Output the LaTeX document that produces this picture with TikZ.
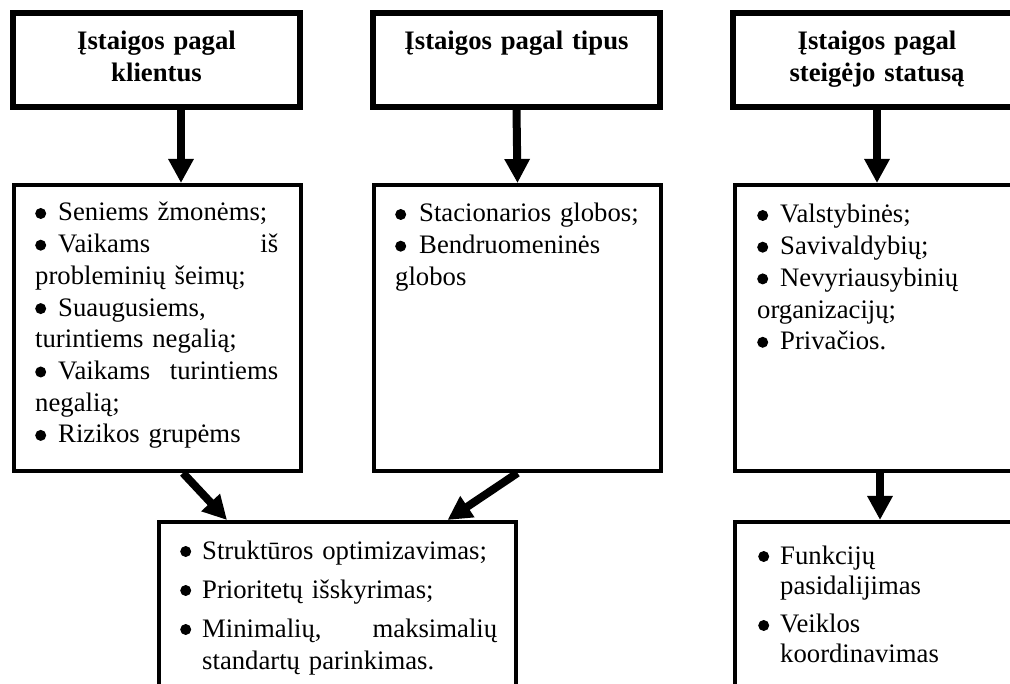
\documentclass[tikz,border=0pt]{standalone}
\usepackage{fontspec}
\setmainfont{Liberation Serif}
\usetikzlibrary{arrows.meta,calc}
\newcommand{\mybul}[1]{\makebox[#1][l]{\tikz[baseline=0pt]\fill (5pt,7.5pt) circle (5.5pt);}}
\begin{document}
\begin{tikzpicture}[x=1pt,y=-1pt,
  tbox/.style={draw, line width=6pt, inner sep=0pt},
  lbox/.style={draw, line width=4pt, inner sep=0pt},
  arr/.style={line width=8pt, -{Triangle[length=24pt,width=24pt]}},
  ttl/.style={inner sep=0pt, anchor=base, text width=290pt, align=center,
    font=\fontsize{26.7pt}{32pt}\selectfont\bfseries},
  body/.style={inner sep=0pt, anchor=base west,
    font=\fontsize{26.7pt}{31.7pt}\selectfont},
]
\useasboundingbox (0,0) rectangle (1010,684);
\fill[white] (0,0) rectangle (1010,684);
\clip (0,0) rectangle (1010,684);

% top boxes
\node[tbox, minimum width=287pt, minimum height=94pt] (t1) at (156.5,60) {};
\node[tbox, minimum width=287pt, minimum height=94pt] (t2) at (516.5,60) {};
\node[tbox, minimum width=288pt, minimum height=94pt] (t3) at (877,60) {};

% middle boxes
\node[lbox, minimum width=287pt, minimum height=286pt] (m1) at (157.5,328) {};
\node[lbox, minimum width=287pt, minimum height=286pt] (m2) at (517.5,328) {};
\node[lbox, minimum width=284pt, minimum height=286pt] (m3) at (877,328) {};

% bottom boxes
\node[lbox, minimum width=357pt, minimum height=196pt] (b1) at (337.5,620) {};
\node[lbox, minimum width=284pt, minimum height=196pt] (b2) at (877,620) {};

% titles
\node[ttl] (t1txt) at (156.5,50) {Įstaigos pagal\\ klientus};
\node[ttl] (t2txt) at (516.5,50) {Įstaigos pagal tipus};
\node[ttl] (t3txt) at (877,50) {Įstaigos pagal\\ steigėjo statusą};

% middle texts
\node[body, text width=243pt] (m1txt) at (35,221) {\mybul{23pt}Seniems žmonėms;\\
\mybul{23pt}Vaikams\hfill iš\\
probleminių šeimų;\\
\mybul{23pt}Suaugusiems,\\
turintiems negalią;\\
\mybul{23pt}Vaikams\hfill turintiems\\
negalią;\\
\mybul{23pt}Rizikos grupėms};

\node[body, text width=250pt] (m2txt) at (395,222) {\mybul{24pt}Stacionarios globos;\\
\mybul{24pt}Bendruomeninės\\
globos};

\node[body, text width=240pt] (m3txt) at (757,223) {\mybul{23pt}Valstybinės;\\
\mybul{23pt}Savivaldybių;\\
\mybul{23pt}Nevyriausybinių\\
organizacijų;\\
\mybul{23pt}Privačios.};

% bottom texts
\node[body, text width=317pt, font=\fontsize{26.7pt}{33pt}\selectfont] (b1txt) at (180,559)
{\mybul{22pt}Struktūros optimizavimas;\\[6pt]
\mybul{22pt}Prioritetų išskyrimas;\\[6pt]
\mybul{22pt}Minimalių,\hfill maksimalių\\
\hspace*{22pt}standartų parinkimas.};

\node[body, text width=240pt, font=\fontsize{26.7pt}{30pt}\selectfont] (b2txt) at (758,564)
{\mybul{22pt}Funkcijų\\
\hspace*{22pt}pasidalijimas\\[9pt]
\mybul{22pt}Veiklos\\
\hspace*{22pt}koordinavimas};

% arrows
\draw[arr] ([xshift=24.5pt]t1.south) -- ([xshift=23.5pt]m1.north);
\draw[arr] (t2.south) -- (m2.north);
\draw[arr] (t3.south) -- (m3.north);
\draw[arr] ([xshift=25.5pt]m1.south) -- ([xshift=-110.5pt]b1.north);
\draw[arr] (m2.south) -- ([xshift=110pt]b1.north);
\draw[arr] ([xshift=3pt]m3.south) -- ([xshift=3pt]b2.north);
\end{tikzpicture}
\end{document}
